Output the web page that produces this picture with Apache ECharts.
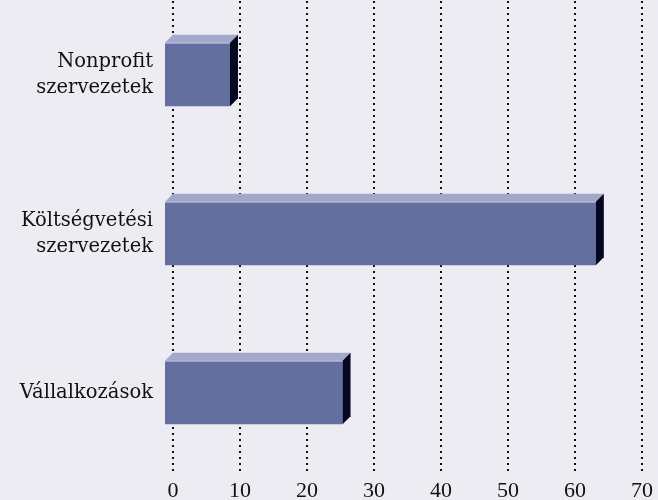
<!DOCTYPE html>
<html>
<head>
<meta charset="utf-8">
<script src="https://cdn.jsdelivr.net/npm/echarts@6/dist/echarts.min.js"></script>
<style>
html,body{margin:0;padding:0;background:#EDECF3;}
#c{width:658px;height:500px;}
</style>
</head>
<body>
<div id="c"></div>
<script>
const categories = ["Nonprofit\nszervezetek", "Költségvetési\nszervezetek", "Vállalkozások"];
const values = [9.7, 64.3, 26.5];
const xTicks = [0, 10, 20, 30, 40, 50, 60, 70];

const chart = echarts.init(document.getElementById('c'), null, {renderer: 'canvas'});
const FONT = 'DejaVu Serif';
const TICKFONT = 'Liberation Serif';
const data = values.map((v, i) => [v, i]);

function renderItem(params, api) {
  const v = api.value(0);
  const cat = api.value(1);
  const p0 = api.coord([0, cat]);
  const p1 = api.coord([v, cat]);
  const band = api.size([0, 1])[1];
  const h = band * 0.4;
  const d = 8;
  const xl = p0[0] - d, xr = p1[0] - d;
  const yt = p0[1] - h / 2, yb = p0[1] + h / 2;
  return {
    type: 'group',
    children: [
      {type: 'rect', shape: {x: xl, y: yt, width: xr - xl, height: h}, style: {fill: '#636F9F'}},
      {type: 'polygon', shape: {points: [[xl, yt], [xl + d, yt - d], [xr + d, yt - d], [xr, yt]]}, style: {fill: '#A5A7CA'}},
      {type: 'polygon', shape: {points: [[xr, yt], [xr + d, yt - d], [xr + d, yb - d], [xr, yb]]}, style: {fill: '#05061F'}},
      {type: 'line', shape: {x1: xl, y1: yt + 0.5, x2: xr, y2: yt + 0.5}, style: {stroke: '#B9BBD9', lineWidth: 1}}
    ]
  };
}

chart.setOption({
  backgroundColor: '#EDECF3',
  animation: false,
  grid: {left: 173, right: 16, top: -5, bottom: 28, containLabel: false, outerBoundsMode: 'none'},
  xAxis: {
    type: 'value', min: 0, max: 70, interval: 10,
    axisLine: {show: false}, axisTick: {show: false},
    axisLabel: {margin: 8, color: '#111', fontFamily: TICKFONT, fontSize: 22,
      formatter: v => xTicks.includes(v) ? String(v) : ''},
    splitLine: {show: true, lineStyle: {color: '#111', width: 2, type: [2, 4]}}
  },
  yAxis: {
    type: 'category', data: categories, inverse: true,
    axisLine: {show: false}, axisTick: {show: false},
    axisLabel: {margin: 20, color: '#111', fontFamily: FONT, fontSize: 19.5, lineHeight: 26, align: 'right'},
    splitLine: {show: false}
  },
  series: [{
    type: 'custom',
    renderItem: renderItem,
    encode: {x: 0, y: 1},
    data: data,
    z: 5
  }]
});
</script>
</body>
</html>
